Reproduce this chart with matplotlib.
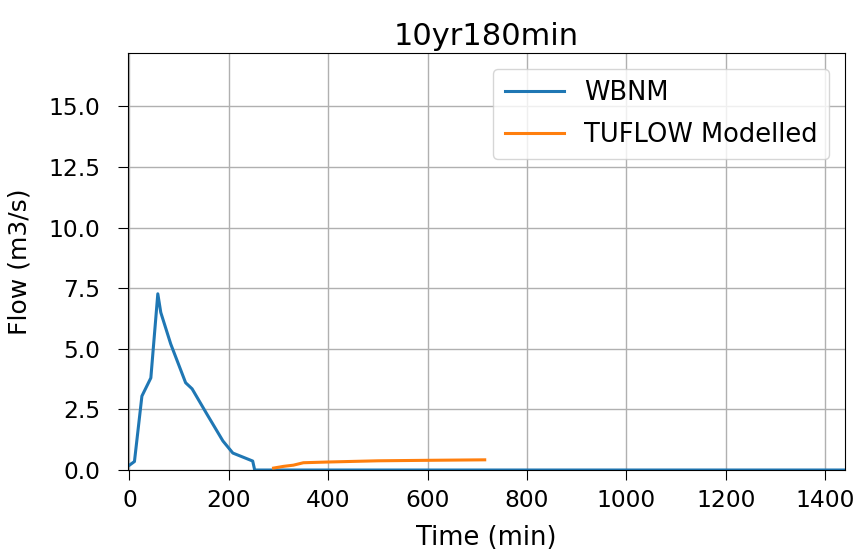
import matplotlib
matplotlib.use("Agg")
import matplotlib.pyplot as plt

wbnm_t = [0, 10, 25, 43, 57, 63, 83, 113, 126, 156, 188, 208, 248, 252, 260, 400, 600, 800, 1000, 1200, 1440]
wbnm_q = [0.2, 0.35, 3.05, 3.8, 7.27, 6.5, 5.2, 3.6, 3.35, 2.3, 1.2, 0.7, 0.37, 0.0, 0.0, 0.0, 0.0, 0.0, 0.0, 0.0, 0.0]

tuf_t = [290, 310, 330, 350, 400, 500, 600, 715]
tuf_q = [0.08, 0.15, 0.2, 0.3, 0.33, 0.38, 0.4, 0.42]

fig = plt.figure(figsize=(8.55, 5.59), dpi=100)
ax = fig.add_axes([0.1497, 0.1592, 0.8385, 0.7458])
ax.plot(wbnm_t, wbnm_q, color="#1f77b4", lw=2.2, label="WBNM")
ax.plot(tuf_t, tuf_q, color="#ff7f0e", lw=2.2, label="TUFLOW Modelled")
ax.set_xlim(-3, 1440)
ax.set_ylim(0, 17.2)
ax.set_xticks([0, 200, 400, 600, 800, 1000, 1200, 1400])
ax.set_yticks([0.0, 2.5, 5.0, 7.5, 10.0, 12.5, 15.0])
ax.grid(True, color="#b0b0b0", lw=1.0)
ax.tick_params(labelsize=16.8, length=7)
ax.tick_params(axis="x", pad=7)
ax.tick_params(axis="y", pad=13)
ax.set_xlabel("Time (min)", fontsize=18.5, labelpad=9)
ax.set_ylabel("Flow (m3/s)", fontsize=18, labelpad=12)
ax.set_title("10yr180min", fontsize=22)
ax.legend(loc="upper right", fontsize=18.5, borderaxespad=0.6, labelspacing=0.6,
          handlelength=2.3, borderpad=0.45)
fig.savefig("out.png", dpi=100)
